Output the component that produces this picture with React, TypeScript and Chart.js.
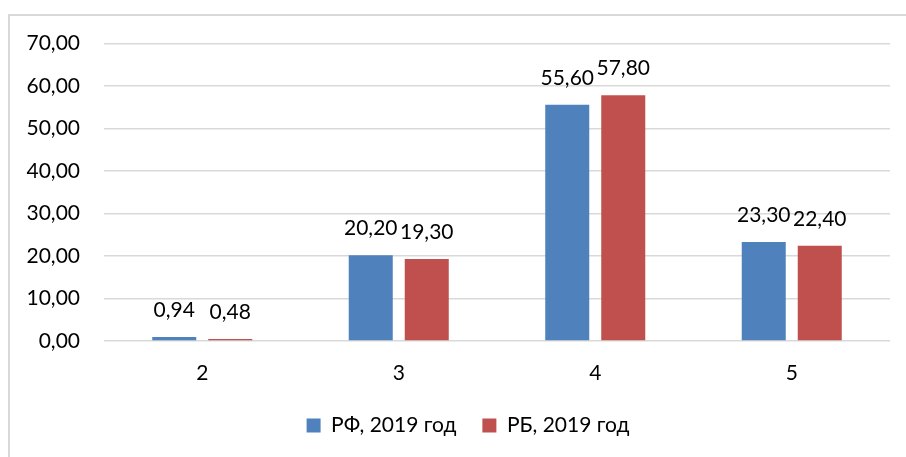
import React, { useEffect, useRef } from "react";
import { Chart, registerables } from "chart.js";

Chart.register(...registerables);

const categories = ["2", "3", "4", "5"];
const seriesRF = [0.94, 20.2, 55.6, 23.3];
const seriesRB = [0.48, 19.3, 57.8, 22.4];
const seriesNames = ["РФ, 2019 год", "РБ, 2019 год"];
const yTicks = [0, 10, 20, 30, 40, 50, 60, 70];

const FONT = "Lato, 'Noto Sans', sans-serif";
const FS = 21;
const fmt = (v: number) => v.toFixed(2).replace(".", ",");

const dataLabels = {
  id: "dataLabels",
  afterDatasetsDraw(chart: any) {
    const ctx = chart.ctx;
    ctx.save();
    ctx.font = `${FS}px ${FONT}`;
    ctx.fillStyle = "#000000";
    ctx.textAlign = "center";
    ctx.textBaseline = "alphabetic";
    chart.data.datasets.forEach((ds: any, di: number) => {
      const meta = chart.getDatasetMeta(di);
      meta.data.forEach((el: any, i: number) => {
        ctx.fillText(fmt(ds.data[i]), el.x, el.y - 20);
      });
    });
    ctx.restore();
  },
};

const legendShift = {
  id: "legendShift",
  afterLayout(chart: any) {
    const lg = chart.legend;
    if (lg) {
      lg.left += 23;
      lg.right += 23;
    }
  },
};

export default function App() {
  const ref = useRef<HTMLCanvasElement>(null);
  useEffect(() => {
    if (!ref.current) return;
    const chart = new Chart(ref.current, {
      type: "bar",
      data: {
        labels: categories,
        datasets: [
          { label: seriesNames[0], data: seriesRF, backgroundColor: "#4F81BD", categoryPercentage: 0.57, barPercentage: 0.786 },
          { label: seriesNames[1], data: seriesRB, backgroundColor: "#C0504D", categoryPercentage: 0.57, barPercentage: 0.786 },
        ],
      },
      options: {
        animation: false,
        responsive: false,
        maintainAspectRatio: false,
        layout: { padding: { top: 43.5, right: 16, bottom: 11, left: 0 } },
        plugins: {
          tooltip: { enabled: false },
          legend: {
            position: "bottom",
            labels: {
              boxWidth: 14,
              boxHeight: 14,
              padding: 26,
              color: "#000000",
              font: { size: FS, family: FONT },
            },
          },
        },
        scales: {
          x: {
            grid: { display: false, drawTicks: false },
            border: { display: false },
            ticks: { color: "#000000", font: { size: FS, family: FONT }, padding: 20 },
            afterFit: (s: any) => { s.height = 48; },
          },
          y: {
            min: 0,
            max: 70,
            afterBuildTicks: (s: any) => { s.ticks = yTicks.map((v) => ({ value: v })); },
            grid: { color: "#d9d9d9", lineWidth: 1.5, drawTicks: false },
            border: { display: false },
            ticks: { color: "#000000", font: { size: FS, family: FONT }, padding: 24, callback: (v: any) => fmt(Number(v)) },
            afterFit: (s: any) => { s.width = 104; },
          },
        },
      },
      plugins: [dataLabels, legendShift],
    });
    return () => chart.destroy();
  }, []);
  return (
    <div style={{ position: "fixed", left: 0, top: 0, width: 906, height: 457, overflow: "hidden", background: "#ffffff" }}>
      <div style={{ position: "absolute", left: 8, top: 14, width: 1000, height: 600, border: "2px solid #d9d9d9", boxSizing: "border-box" }} />
      <canvas ref={ref} width={906} height={457} style={{ position: "absolute", left: 0, top: 0, width: 906, height: 457 }} />
    </div>
  );
}
